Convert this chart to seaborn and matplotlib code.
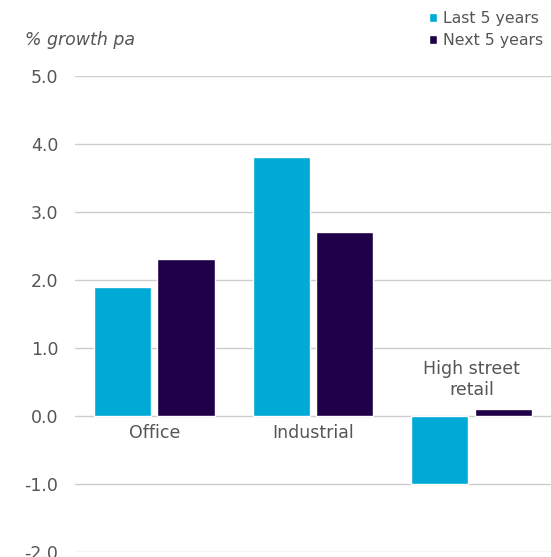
import matplotlib
matplotlib.use("Agg")
import matplotlib.pyplot as plt
import seaborn as sns
import pandas as pd

categories = ["Office", "Industrial", "High street retail"]
cat_labels = ["Office", "Industrial", "High street\nretail"]
last_5 = [1.9, 3.8, -1.0]
next_5 = [2.3, 2.7, 0.1]
series = ["Last 5 years", "Next 5 years"]
yticks = [-2.0, -1.0, 0.0, 1.0, 2.0, 3.0, 4.0, 5.0]

df = pd.DataFrame({
    "category": categories * 2,
    "series": [series[0]] * 3 + [series[1]] * 3,
    "value": last_5 + next_5,
})

sns.set_style("white")
plt.rcParams["font.family"] = ["DejaVu Sans"]
text_col = "#555555"
palette = {"Last 5 years": "#00AAD7", "Next 5 years": "#1F0048"}

fig = plt.figure(figsize=(5.51, 5.57), dpi=100)
ax = fig.add_axes([0.136, 0.009, 0.864, 0.855])

sns.barplot(data=df, x="category", y="value", hue="series", order=categories,
            hue_order=series, palette=palette, width=0.8, gap=0.1,
            saturation=1, ax=ax, legend=True)

ax.set_ylim(-2.0, 5.0)
ax.set_xlim(-0.5, 2.5)
ax.set_yticks(yticks)
ax.set_yticklabels([f"{v:.1f}" for v in yticks])
ax.yaxis.grid(True, color="#cccccc", linewidth=1.0)
ax.set_axisbelow(True)
ax.tick_params(axis="y", length=0, pad=12, labelsize=12.5, labelcolor=text_col)
ax.set_xticks([])
ax.set_xlabel("")
ax.set_ylabel("")
for s in ax.spines.values():
    s.set_visible(False)

# category labels
label_y = [-0.25, -0.25, 0.53]
for i, (lab, yy) in enumerate(zip(cat_labels, label_y)):
    ax.text(i, yy, lab, ha="center", va="center", fontsize=12.5,
            color=text_col, linespacing=1.2)

fig.text(0.045, 0.928, "% growth pa", fontsize=12.5, style="italic",
         color=text_col, ha="left", va="center")

handles, labels = ax.get_legend_handles_labels()
ax.get_legend().remove()
leg = fig.legend(handles, labels, loc="upper right", bbox_to_anchor=(1.005, 1.0),
                 frameon=False, fontsize=11.3, handlelength=0.55, handleheight=0.55,
                 handletextpad=0.35, labelspacing=0.45, borderaxespad=0.3)
for t in leg.get_texts():
    t.set_color(text_col)

fig.savefig("out.png", dpi=100)
